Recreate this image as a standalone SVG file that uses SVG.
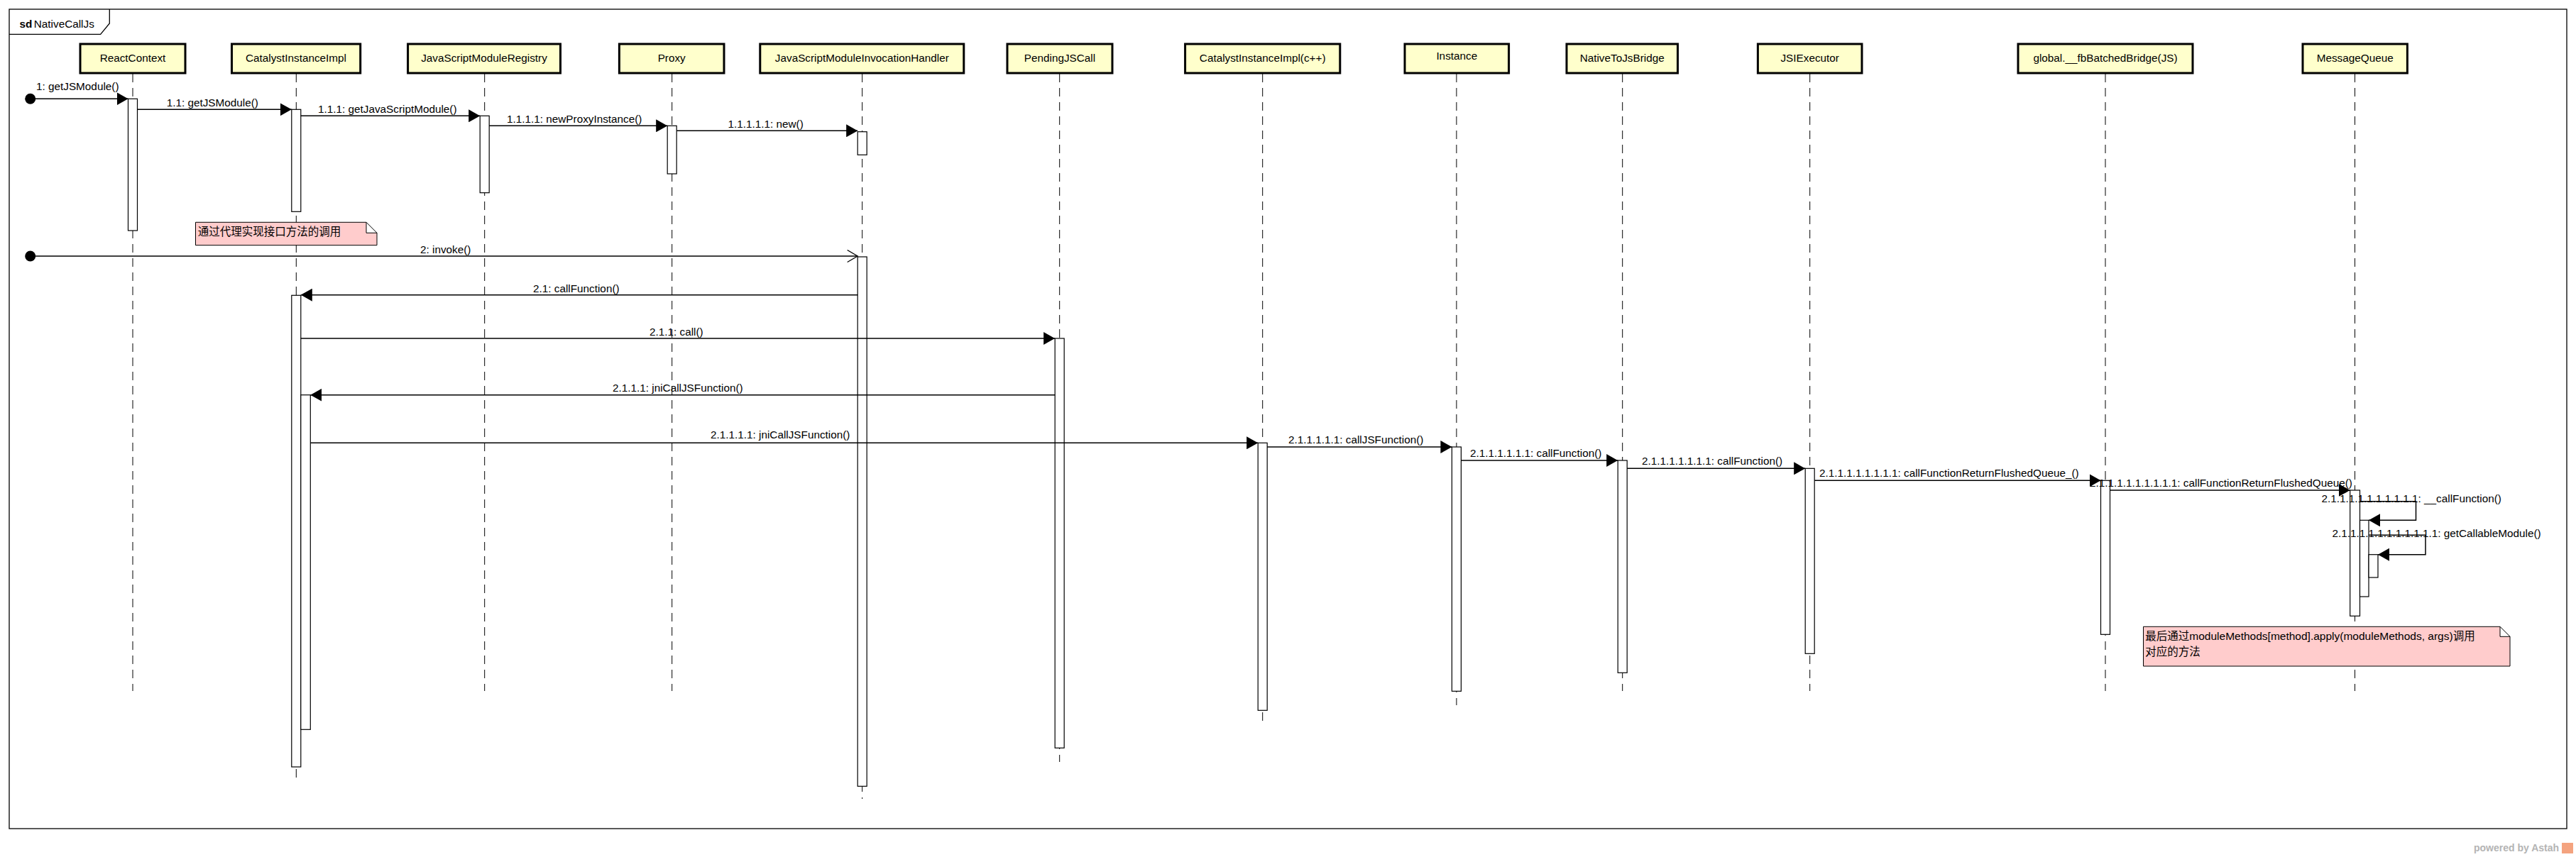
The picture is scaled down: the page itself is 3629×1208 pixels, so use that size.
<svg xmlns="http://www.w3.org/2000/svg" width="3629" height="1208" viewBox="0 0 3629 1208">
<style>
text{font-family:"Liberation Sans","Noto Sans CJK SC",sans-serif;font-size:15.3px;fill:#000}
.box{fill:#FFFFCC;stroke:#000;stroke-width:3}
.hdr text{text-anchor:middle}
.life{stroke:#000;stroke-width:1;stroke-dasharray:12 8;fill:none}
.act{fill:#fff;stroke:#000;stroke-width:1.2}
.msg{stroke:#000;stroke-width:1.5;fill:none}
.sync{marker-end:url(#sync)}
.note path{fill:#FFCCCC;stroke:#000;stroke-width:1}
.note text{font-size:15.5px}
</style>
<defs>
<marker id="sync" markerWidth="16" markerHeight="18" refX="16" refY="9" orient="auto" markerUnits="userSpaceOnUse"><path d="M0,0 L16,9 L0,18 z" fill="#000"/></marker>
<marker id="open" markerWidth="17" markerHeight="19" refX="15.5" refY="9.5" orient="auto" markerUnits="userSpaceOnUse"><path d="M1,1 L15.5,9.5 L1,18" fill="none" stroke="#000" stroke-width="1.3"/></marker>
</defs>
<rect width="3629" height="1208" fill="#fff"/>
<g id="frame">
<rect x="13" y="13" width="3603" height="1155" fill="none" stroke="#000" stroke-width="1.3"/>
<path d="M13,48.3 H141.6 L154.3,33 V13" fill="none" stroke="#000" stroke-width="1.3"/>
<text x="27.4" y="38.5"><tspan font-weight="bold">sd</tspan><tspan x="47.8">NativeCallJs</tspan></text>
</g>
<g id="ReactContext" class="hdr">
<line class="life" x1="187" y1="104" x2="187" y2="974"/>
<rect class="box" x="113" y="62" width="148" height="41"/>
<text x="187" y="86.5">ReactContext</text>
<rect class="act" x="180.5" y="139.3" width="13" height="185.7"/>
</g>
<g id="CatalystInstanceImpl" class="hdr">
<line class="life" x1="417.3" y1="104" x2="417.3" y2="1101"/>
<rect class="box" x="326.5" y="62" width="181.2" height="41"/>
<text x="417" y="86.5">CatalystInstanceImpl</text>
<rect class="act" x="410.8" y="154.3" width="13" height="144"/>
<rect class="act" x="410.8" y="416.3" width="13" height="664.7"/>
<rect class="act" x="423.8" y="556.7" width="13.5" height="471.6"/>
</g>
<g id="JavaScriptModuleRegistry" class="hdr">
<line class="life" x1="682.7" y1="104" x2="682.7" y2="974"/>
<rect class="box" x="574.6" y="62" width="214.9" height="41"/>
<text x="682" y="86.5">JavaScriptModuleRegistry</text>
<rect class="act" x="676.2" y="163.3" width="13" height="108.4"/>
</g>
<g id="Proxy" class="hdr">
<line class="life" x1="946.7" y1="104" x2="946.7" y2="974"/>
<rect class="box" x="872.4" y="62" width="147.6" height="41"/>
<text x="946.2" y="86.5">Proxy</text>
<rect class="act" x="940.2" y="177.3" width="13" height="67.7"/>
</g>
<g id="JavaScriptModuleInvocationHandler" class="hdr">
<line class="life" x1="1214.7" y1="104" x2="1214.7" y2="1126"/>
<rect class="box" x="1070.8" y="62" width="287" height="41"/>
<text x="1214.3" y="86.5">JavaScriptModuleInvocationHandler</text>
<rect class="act" x="1208.2" y="185.7" width="13" height="32.6"/>
<rect class="act" x="1208.2" y="362" width="13" height="746.3"/>
</g>
<g id="PendingJSCall" class="hdr">
<line class="life" x1="1492.7" y1="104" x2="1492.7" y2="1074"/>
<rect class="box" x="1419" y="62" width="148" height="41"/>
<text x="1493" y="86.5">PendingJSCall</text>
<rect class="act" x="1486.2" y="477" width="13" height="577.3"/>
</g>
<g id="CatalystInstanceImplCpp" class="hdr">
<line class="life" x1="1778.7" y1="104" x2="1778.7" y2="1022"/>
<rect class="box" x="1669.6" y="62" width="218.2" height="41"/>
<text x="1778.7" y="86.5">CatalystInstanceImpl(c++)</text>
<rect class="act" x="1772.2" y="624.3" width="13" height="377"/>
</g>
<g id="Instance" class="hdr">
<line class="life" x1="2051.9" y1="104" x2="2051.9" y2="994"/>
<rect class="box" x="1979" y="62" width="146.6" height="41"/>
<text x="2052.3" y="83.5">Instance</text>
<rect class="act" x="2045.4" y="630" width="13" height="344.3"/>
</g>
<g id="NativeToJsBridge" class="hdr">
<line class="life" x1="2285.7" y1="104" x2="2285.7" y2="974"/>
<rect class="box" x="2207" y="62" width="156.5" height="41"/>
<text x="2285.2" y="86.5">NativeToJsBridge</text>
<rect class="act" x="2279.2" y="649" width="13" height="299.3"/>
</g>
<g id="JSIExecutor" class="hdr">
<line class="life" x1="2549.7" y1="104" x2="2549.7" y2="974"/>
<rect class="box" x="2476.4" y="62" width="146.6" height="41"/>
<text x="2549.7" y="86.5">JSIExecutor</text>
<rect class="act" x="2543.2" y="660.3" width="13" height="261"/>
</g>
<g id="fbBatchedBridge" class="hdr">
<line class="life" x1="2966" y1="104" x2="2966" y2="974"/>
<rect class="box" x="2843" y="62" width="246" height="41"/>
<text x="2966" y="86.5">global.__fbBatchedBridge(JS)</text>
<rect class="act" x="2959.5" y="677.3" width="13" height="217"/>
</g>
<g id="MessageQueue" class="hdr">
<line class="life" x1="3317.5" y1="104" x2="3317.5" y2="974"/>
<rect class="box" x="3244" y="62" width="147.4" height="41"/>
<text x="3317.7" y="86.5">MessageQueue</text>
<rect class="act" x="3310.7" y="691" width="13.8" height="177.3"/>
<rect class="act" x="3324.5" y="733.3" width="12.5" height="107.7"/>
<rect class="act" x="3337" y="781.7" width="13" height="32.3"/>
</g>
<g id="note1" class="note">
<path d="M275.5,313.3 H516 L531,328.3 V345.7 H275.5 Z M516,313.3 V328.3 H531"/>
<text x="278.7" y="331.5">通过代理实现接口方法的调用</text>
</g>
<g id="note2" class="note">
<path d="M3019.5,883.3 H3522 L3536,897.3 V939 H3019.5 Z M3522,883.3 V897.3 H3536"/>
<text x="3022.3" y="902">最后通过moduleMethods[method].apply(moduleMethods, args)调用</text>
<text x="3022.3" y="924">对应的方法</text>
</g>
<g id="connectors">
<circle cx="42.7" cy="139.3" r="7.5" fill="#000"/>
<line class="msg sync" x1="42.7" y1="139.3" x2="180.5" y2="139.3"/>
<text x="51" y="126.7">1: getJSModule()</text>
<line class="msg sync" x1="193.5" y1="154.3" x2="410.8" y2="154.3"/>
<text x="234.7" y="150">1.1: getJSModule()</text>
<line class="msg sync" x1="423.8" y1="163.3" x2="676.2" y2="163.3"/>
<text x="448" y="159">1.1.1: getJavaScriptModule()</text>
<line class="msg sync" x1="689.2" y1="177.3" x2="940.2" y2="177.3"/>
<text x="714" y="173">1.1.1.1: newProxyInstance()</text>
<line class="msg sync" x1="953.2" y1="184.3" x2="1208.2" y2="184.3"/>
<text x="1025.5" y="180">1.1.1.1.1: new()</text>
<circle cx="42.7" cy="361" r="7.5" fill="#000"/>
<line class="msg" marker-end="url(#open)" x1="42.7" y1="361" x2="1208.2" y2="361"/>
<text x="592" y="357">2: invoke()</text>
<line class="msg sync" x1="1208.2" y1="415.7" x2="423.8" y2="415.7"/>
<text x="751" y="411.7">2.1: callFunction()</text>
<line class="msg sync" x1="423.8" y1="477" x2="1486.2" y2="477"/>
<text x="915" y="472.7">2.1.1: call()</text>
<line class="msg sync" x1="1486.2" y1="556.7" x2="437.3" y2="556.7"/>
<text x="863" y="552.3">2.1.1.1: jniCallJSFunction()</text>
<line class="msg sync" x1="437.3" y1="624.3" x2="1772.2" y2="624.3"/>
<text x="1001" y="618.3">2.1.1.1.1: jniCallJSFunction()</text>
<line class="msg sync" x1="1785.2" y1="630" x2="2045.4" y2="630"/>
<text x="1815" y="625">2.1.1.1.1.1: callJSFunction()</text>
<line class="msg sync" x1="2058.4" y1="649" x2="2279.2" y2="649"/>
<text x="2071" y="644">2.1.1.1.1.1.1: callFunction()</text>
<line class="msg sync" x1="2292.2" y1="660.3" x2="2543.2" y2="660.3"/>
<text x="2313" y="655">2.1.1.1.1.1.1.1: callFunction()</text>
<line class="msg sync" x1="2556.2" y1="677.3" x2="2959.5" y2="677.3"/>
<text x="2563" y="671.7">2.1.1.1.1.1.1.1.1: callFunctionReturnFlushedQueue_()</text>
<line class="msg sync" x1="2972.5" y1="691" x2="3310.7" y2="691"/>
<text x="2944" y="686">2.1.1.1.1.1.1.1.1.1: callFunctionReturnFlushedQueue()</text>
<polyline class="msg sync" points="3324.5,706.7 3403.5,706.7 3403.5,733.3 3337,733.3"/>
<text x="3270.5" y="708">2.1.1.1.1.1.1.1.1.1.1: __callFunction()</text>
<polyline class="msg sync" points="3337,754.3 3417,754.3 3417,781.7 3350,781.7"/>
<text x="3285.4" y="756.7">2.1.1.1.1.1.1.1.1.1.1.1: getCallableModule()</text>
</g>
<g id="watermark">
<text x="3485" y="1200" font-size="14" font-weight="bold" fill="#b4b4b4" style="fill:#b4b4b4;font-size:14px">powered by Astah</text>
<rect x="3609" y="1188" width="16" height="15" fill="#F4A37F"/>
</g>
</svg>
